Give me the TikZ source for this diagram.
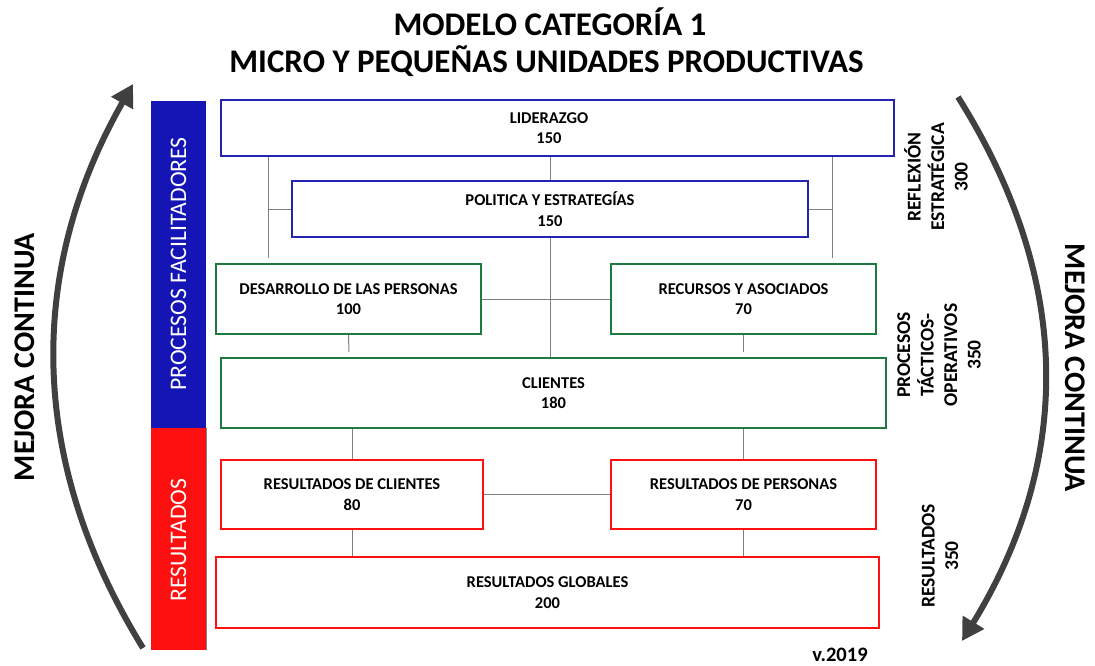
\documentclass[tikz,border=0pt]{standalone}
\usepackage{fontspec}
\setmainfont{Carlito}
\usetikzlibrary{arrows.meta}
\definecolor{bblue}{HTML}{2424B0}
\definecolor{barblue}{HTML}{1515B5}
\definecolor{bgreen}{HTML}{1E7B40}
\definecolor{bred}{HTML}{FF1010}
\definecolor{conncol}{HTML}{808080}
\definecolor{arcgray}{HTML}{404040}
\tikzset{
  box/.style={draw, line width=2pt, fill=white, align=center, inner sep=0pt,
    font=\bfseries\fontsize{16.5}{20.5}\selectfont},
  bluebox/.style={box, draw=bblue},
  greenbox/.style={box, draw=bgreen},
  redbox/.style={box, draw=bred},
  conn/.style={draw=conncol, line width=1pt},
  arc/.style={draw=arcgray, line width=6pt, -{Triangle[length=22pt,width=24pt]}},
  sidelabel/.style={rotate=90, align=center, font=\bfseries\fontsize{19.5}{23.5}\selectfont},
  bartext/.style={rotate=90, text=white, font=\fontsize{23.7}{26}\selectfont},
  bigtext/.style={font=\bfseries\fontsize{30}{32}\selectfont}
}
\begin{document}
\begin{tikzpicture}[x=1pt,y=-1pt]
\useasboundingbox (0,0) rectangle (1095,666);
% title
\node[font=\bfseries\fontsize{33}{36}\selectfont] (t1) at (550,22) {MODELO CATEGORÍA 1};
\node[font=\bfseries\fontsize{33}{36}\selectfont] (t2) at (546.5,61) {MICRO Y PEQUEÑAS UNIDADES PRODUCTIVAS};
% side bars
\fill[barblue] (151,101) rectangle (206,428);
\fill[bred] (151,428) rectangle (206,650);
\draw[conncol, line width=0.6pt] (206,428) -- (206,650);
\node[bartext] (pf) at (178.5,264) {PROCESOS FACILITADORES};
\node[bartext] (rs) at (178.5,540) {RESULTADOS};
% boxes
\node[bluebox, minimum width=673pt, minimum height=56pt] (lid) at (557.5,128) {\hspace*{-17pt}LIDERAZGO\\\hspace*{-17pt}150};
\node[bluebox, minimum width=516pt, minimum height=56pt] (pol) at (550,209) {POLITICA Y ESTRATEGÍAS\\150};
\node[greenbox, minimum width=265pt, minimum height=70pt] (des) at (348.5,299) {DESARROLLO DE LAS PERSONAS\\100};
\node[greenbox, minimum width=265pt, minimum height=70pt] (rec) at (743.5,299) {RECURSOS Y ASOCIADOS\\70};
\node[greenbox, minimum width=665pt, minimum height=70pt] (cli) at (553.5,393) {CLIENTES\\180};
\node[redbox, minimum width=262pt, minimum height=69pt] (rcl) at (352,494.5) {RESULTADOS DE CLIENTES\\80};
\node[redbox, minimum width=265pt, minimum height=69pt] (rpe) at (743.5,494.5) {RESULTADOS DE PERSONAS\\70};
\node[redbox, minimum width=663pt, minimum height=71pt] (rgl) at (547.5,592.5) {RESULTADOS GLOBALES\\200};
% connectors
\coordinate (lv1) at (268,157);
\coordinate (lv2) at (268,258);
\coordinate (rv1) at (832,157);
\coordinate (rv2) at (832,258);
\coordinate (db) at (349,352);
\coordinate (rb) at (743.5,352);
\draw[conn] (pol.north |- lid.south) -- (pol.north);
\draw[conn] (lv1) -- (lv2);
\draw[conn] (rv1) -- (rv2);
\draw[conn] (pol.west) -- (pol.west -| lv1);
\draw[conn] (pol.east) -- (pol.east -| rv1);
\draw[conn] (pol.south) -- (pol.south |- cli.north);
\draw[conn] (des.east) -- (rec.west);
\draw[conn] (des.south) -- (db);
\draw[conn] (rec.south) -- (rb);
\draw[conn] (rcl.north) -- (rcl.north |- cli.south);
\draw[conn] (rpe.north) -- (rpe.north |- cli.south);
\draw[conn] (rcl.east) -- (rpe.west);
\draw[conn] (rcl.south) -- (rcl.south |- rgl.north);
\draw[conn] (rpe.south) -- (rpe.south |- rgl.north);
% right labels
\node[sidelabel] (l1) at (936,177) {REFLEXIÓN\\ESTRATÉGICA\\300};
\node[sidelabel] (l2) at (939,355) {PROCESOS\\TÁCTICOS-\\OPERATIVOS\\350};
\node[sidelabel] (l3) at (940,556) {RESULTADOS\\350};
% arcs
\coordinate (a1s) at (143,648);
\coordinate (a1e) at (133,84);
\coordinate (a2s) at (958,97);
\coordinate (a2e) at (962,641);
\draw[arc] (a1s) .. controls (27,460) and (27,270) .. (a1e);
\draw[arc] (a2s) .. controls (1073,280) and (1073,460) .. (a2e);
\node[bigtext, rotate=90] (mc1) at (25,357) {MEJORA CONTINUA};
\node[bigtext, rotate=-90] (mc2) at (1075,368) {MEJORA CONTINUA};
% version
\node[font=\bfseries\fontsize{20.5}{22}\selectfont] (ver) at (840,655) {v.2019};
\end{tikzpicture}
\end{document}
